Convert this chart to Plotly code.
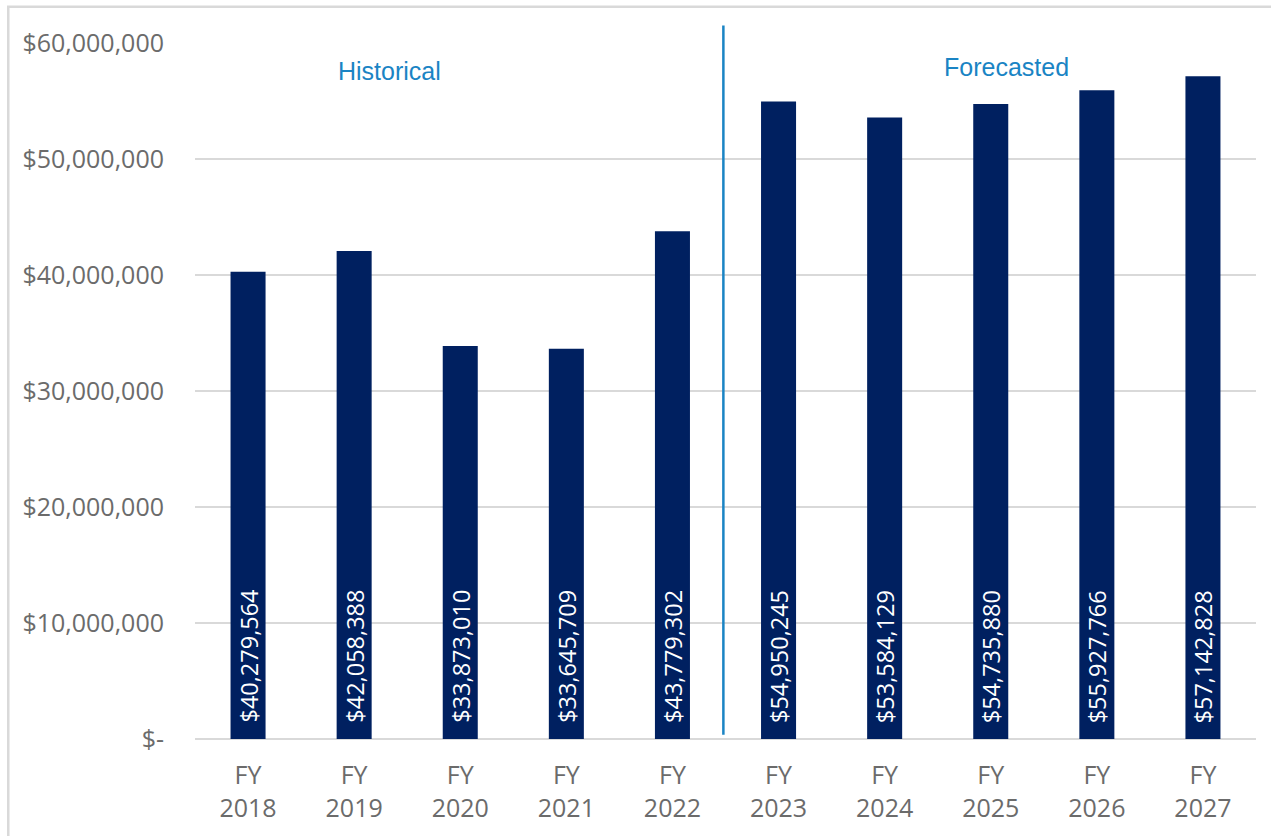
import plotly.graph_objects as go

years = ["2018", "2019", "2020", "2021", "2022", "2023", "2024", "2025", "2026", "2027"]
categories = ["FY<br>" + y for y in years]
values = [40279564, 42058388, 33873010, 33645709, 43779302,
          54950245, 53584129, 54735880, 55927766, 57142828]
tick_vals = [0, 10000000, 20000000, 30000000, 40000000, 50000000, 60000000]
tick_text = ["$-", "$10,000,000", "$20,000,000", "$30,000,000",
             "$40,000,000", "$50,000,000", "$60,000,000"]
section_labels = ["Historical", "Forecasted"]

bar_text = ["${:,.0f}".format(v) for v in values]

fig = go.Figure()
fig.add_trace(go.Bar(
    x=categories, y=values, width=0.33,
    marker=dict(color="#002060", line=dict(width=0)),
    hovertext=bar_text,
))

# value labels, rotated, sitting on the bar base
for cat, txt in zip(categories, bar_text):
    fig.add_annotation(x=cat, y=0, xref="x", yref="y", text=txt,
                       textangle=-90, showarrow=False,
                       xanchor="center", yanchor="bottom", yshift=14,
                       font=dict(family="Open Sans", size=23.5, color="white"))

# divider between historical and forecast
fig.add_shape(type="line", xref="x", yref="paper",
              x0=4.48, x1=4.48, y0=0.006, y1=1.025,
              line=dict(color="#1A84C4", width=2.5))

fig.add_annotation(text=section_labels[0], xref="x", yref="paper",
                   x=1.33, y=0.960, showarrow=False,
                   xanchor="center", yanchor="middle",
                   font=dict(family="Liberation Sans", size=25, color="#1A84C4"))
fig.add_annotation(text=section_labels[1], xref="x", yref="paper",
                   x=7.15, y=0.9655, showarrow=False,
                   xanchor="center", yanchor="middle",
                   font=dict(family="Liberation Sans", size=25, color="#1A84C4"))

# outer chart border
fig.add_shape(type="rect", xref="paper", yref="paper",
              x0=-0.176, x1=1.2, y0=-0.3, y1=1.052,
              line=dict(color="#D9D9D9", width=2.5), layer="below")

fig.update_layout(
    width=1271, height=836,
    margin=dict(l=195, r=15, t=43, b=97),
    plot_bgcolor="white", paper_bgcolor="white",
    showlegend=False, bargap=0.67,
    font=dict(family="Open Sans", color="#666666"),
)
fig.update_xaxes(
    tickfont=dict(family="Open Sans", size=25, color="#6B6B6B"),
    showgrid=False, zeroline=False, showline=False, ticks="",
    ticklabelstandoff=19,
)
fig.update_yaxes(
    range=[0, 60000000], tickvals=tick_vals, ticktext=tick_text,
    tickfont=dict(family="Open Sans", size=25, color="#6B6B6B"),
    showgrid=True, gridcolor="#D9D9D9", gridwidth=2,
    zeroline=True, zerolinecolor="#D9D9D9", zerolinewidth=2,
    ticks="", ticklabelstandoff=30,
)

fig.write_html("out.html")
